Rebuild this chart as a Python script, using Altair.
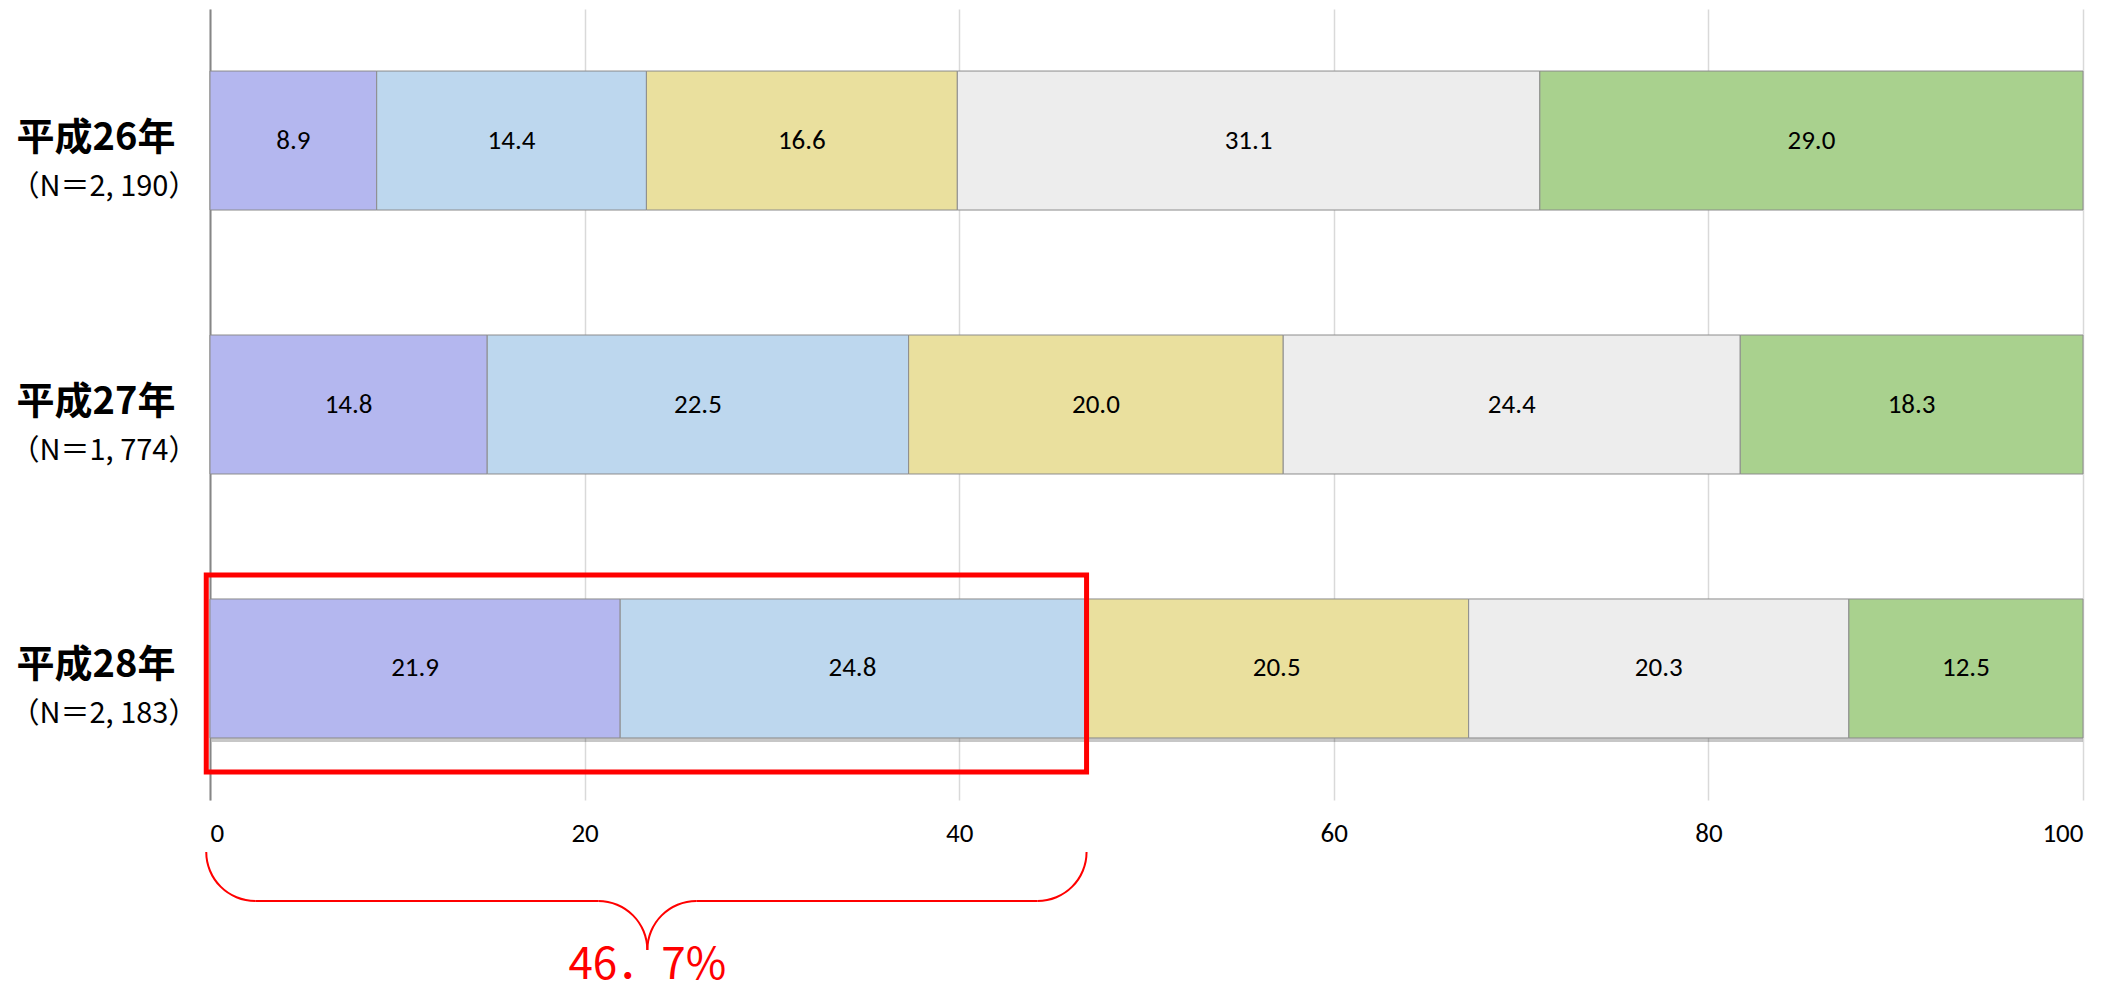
import math
import altair as alt
import pandas as pd

# ---------------- data ----------------
years = ["平成26年", "平成27年", "平成28年"]
sample_sizes = ["（N＝2, 190）", "（N＝1, 774）", "（N＝2, 183）"]
categories = ["区分1", "区分2", "区分3", "区分4", "区分5"]
colors = ["#b4b7ef", "#bdd7ee", "#eae09e", "#ededed", "#a9d18e"]
h26 = [8.9, 14.4, 16.6, 31.1, 29.0]
h27 = [14.8, 22.5, 20.0, 24.4, 18.3]
h28 = [21.9, 24.8, 20.5, 20.3, 12.5]
x_ticks = [0, 20, 40, 60, 80, 100]
highlight_total = 46.7
highlight_label = "46．7%"
box_x = [-0.2, 46.8]

rows = []
for yr, vals in zip(years, [h26, h27, h28]):
    for i, (c, v) in enumerate(zip(categories, vals)):
        rows.append({"year": yr, "cat": c, "idx": i, "value": v, "label": f"{v:.1f}"})
df = pd.DataFrame(rows)
label_df = pd.DataFrame({"year": years, "n": sample_sizes})

# ---------------- layout ----------------
W, H = 1873, 791
px_per_unit = W / 100.0
R = 49
num_font = "Liberation Sans Narrow, Carlito, Open Sans, sans-serif"
jp_font = "Noto Sans CJK JP"

xs = alt.Scale(domain=[0, 100], nice=False, zero=False)
xaxis = alt.Axis(values=x_ticks, grid=True, gridColor="#d9d9d9", gridWidth=1.5,
                 domain=False, ticks=False, labelFontSize=27, labelFont=num_font,
                 labelColor="#000000", labelPadding=20, title=None)
y_enc = alt.Y("year:N", sort=years,
              scale=alt.Scale(paddingInner=0.4735, paddingOuter=0.235),
              axis=alt.Axis(labels=False, ticks=False, domain=True, domainColor="#868686",
                            domainWidth=2, grid=False, title=None))

base = alt.Chart(df).transform_stack(
    stack="value", groupby=["year"], sort=[alt.SortField("idx", order="ascending")],
    as_=["x0", "x1"])

shadow = alt.Chart(pd.DataFrame({"year": [years[2]], "s": [0], "e": [100]})).mark_bar(
    color="#000000", opacity=0.22, yOffset=4, xOffset=2
).encode(x=alt.X("s:Q", scale=xs, axis=xaxis), x2="e:Q", y=y_enc)

bars = base.mark_bar(stroke="#8c8c8c", strokeWidth=1).encode(
    x=alt.X("x0:Q", scale=xs, axis=xaxis),
    x2="x1:Q",
    y=y_enc,
    color=alt.Color("cat:N", scale=alt.Scale(domain=categories, range=colors), legend=None),
)

values = base.transform_calculate(mid="(datum.x0 + datum.x1) / 2").mark_text(
    fontSize=27, font=num_font, color="#000000", baseline="middle"
).encode(x=alt.X("mid:Q", scale=xs), y=y_enc, text="label:N")

year_text = alt.Chart(label_df).mark_text(
    fontSize=38, fontWeight="bold", font=jp_font, color="#000000", dy=-2, baseline="middle"
).encode(x=alt.value(-114), y=y_enc, text="year:N")

n_text = alt.Chart(label_df).mark_text(
    fontSize=29, font=jp_font, color="#000000", dy=46, baseline="middle"
).encode(x=alt.value(-106), y=y_enc, text="n:N")

box = alt.Chart(pd.DataFrame({"year": [years[2]], "s": [box_x[0]], "e": [box_x[1]]})).mark_bar(
    size=197, yOffset=5, fillOpacity=0, stroke="#ff0000", strokeWidth=5
).encode(x=alt.X("s:Q", scale=xs), x2="e:Q", y=y_enc)

# ---------------- brace annotation ----------------
dummy = pd.DataFrame({"d": [0]})
tip = highlight_total / 2
left_c = box_x[0] + R / px_per_unit
right_c = box_x[1] - R / px_per_unit
ml_c = tip - R / px_per_unit
mr_c = tip + R / px_per_unit
y_h = 892
y_top_c, y_tip_c = y_h - R, y_h + R


def arc(cx, cy, t1, t2):
    return alt.Chart(dummy).mark_arc(
        theta=t1, theta2=t2, innerRadius=R - 1, outerRadius=R + 1, color="#ff0000"
    ).encode(x=alt.datum(cx), y=alt.value(cy))


def hline(a, b):
    return alt.Chart(dummy).mark_rule(color="#ff0000", strokeWidth=2).encode(
        x=alt.datum(a), x2=alt.datum(b), y=alt.value(y_h))


brace = [
    arc(left_c, y_top_c, math.pi, 1.5 * math.pi),
    hline(left_c, ml_c),
    arc(ml_c, y_tip_c, 0, 0.5 * math.pi),
    arc(mr_c, y_tip_c, 1.5 * math.pi, 2 * math.pi),
    hline(mr_c, right_c),
    arc(right_c, y_top_c, 0.5 * math.pi, math.pi),
]

pct_text = alt.Chart(dummy).mark_text(
    text=highlight_label, color="#ff0000", fontSize=44, font=jp_font,
    baseline="alphabetic", align="center"
).encode(x=alt.datum(tip), y=alt.value(970))

chart = alt.layer(shadow, bars, values, year_text, n_text, box, *brace, pct_text).properties(
    width=W, height=H,
    autosize=alt.AutoSizeParams(type="none"),
    padding={"left": 202, "top": 1, "right": 30, "bottom": 196},
).configure_view(stroke=None)

chart.save("out.html", embed_options={"renderer": "svg", "actions": False})
